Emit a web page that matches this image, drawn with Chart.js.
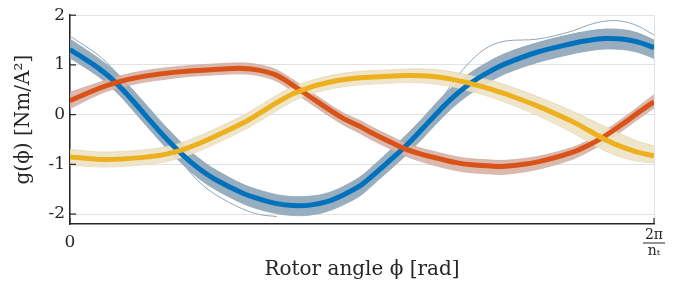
<!DOCTYPE html>
<html><head><meta charset="utf-8">
<script src="https://cdn.jsdelivr.net/npm/chart.js@4.4.1/dist/chart.umd.min.js"></script>
<style>html,body{margin:0;padding:0;background:#fff}</style>
</head><body>
<canvas id="c" width="683" height="297"></canvas>
<script>
// Rotor angle as fraction of 2*pi/n_t
const phi = [0,0.048,0.077,0.106,0.134,0.163,0.192,0.219,0.248,0.296,0.325,0.354,0.382,0.411,0.440,0.467,0.497,0.517,0.545,0.574,0.603,0.630,0.659,0.688,0.716,0.745,0.801,0.860,0.887,0.916,0.945,0.973,1.0];

const blueMain  = [1.31,0.94,0.66,0.3,-0.08,-0.46,-0.8,-1.07,-1.3,-1.58,-1.7,-1.79,-1.83,-1.82,-1.75,-1.62,-1.43,-1.24,-0.95,-0.64,-0.29,0.05,0.38,0.65,0.85,1.02,1.26,1.43,1.49,1.53,1.52,1.46,1.35];
const blueUpper = [1.52,1.14,0.87,0.52,0.15,-0.23,-0.58,-0.86,-1.1,-1.4,-1.52,-1.61,-1.65,-1.64,-1.58,-1.45,-1.25,-1.05,-0.75,-0.43,-0.08,0.27,0.6,0.86,1.06,1.23,1.45,1.62,1.68,1.72,1.71,1.64,1.5];
const blueLower = [1.14,0.77,0.48,0.11,-0.27,-0.65,-0.99,-1.27,-1.5,-1.79,-1.91,-1.99,-2.03,-2.02,-1.95,-1.82,-1.63,-1.43,-1.14,-0.83,-0.49,-0.15,0.18,0.44,0.64,0.82,1.05,1.22,1.28,1.32,1.31,1.25,1.13];
const blueOutA  = [null,null,null,null,null,null,null,null,null,null,null,null,null,null,null,null,null,null,null,null,null,0.2,0.7,1.1,1.36,1.48,1.52,1.68,1.8,1.88,1.88,1.78,1.6];
const blueOutB  = [1.58,1.2,0.88,0.45,0.0,-0.5,-0.96,-1.33,-1.6,-1.9,-2.01,-2.05,null,null,null,null,null,null,null,null,null,null,null,null,null,null,null,null,null,null,null,null,null];

const redMain   = [0.28,0.52,0.64,0.725,0.785,0.83,0.865,0.89,0.91,0.93,0.89,0.79,0.59,0.36,0.13,-0.07,-0.24,-0.37,-0.53,-0.69,-0.8,-0.88,-0.96,-1.01,-1.03,-1.04,-0.95,-0.76,-0.62,-0.43,-0.2,0.04,0.26];
const redUpper  = [0.45,0.64,0.75,0.835,0.895,0.94,0.975,1.0,1.02,1.04,1.0,0.9,0.7,0.47,0.24,0.04,-0.12,-0.25,-0.41,-0.57,-0.68,-0.76,-0.84,-0.89,-0.91,-0.92,-0.84,-0.66,-0.52,-0.32,-0.09,0.16,0.4];
const redLower  = [0.12,0.4,0.52,0.605,0.665,0.71,0.755,0.78,0.8,0.82,0.78,0.67,0.46,0.23,0.0,-0.2,-0.38,-0.51,-0.67,-0.83,-0.95,-1.04,-1.12,-1.17,-1.19,-1.2,-1.1,-0.9,-0.75,-0.56,-0.33,-0.09,0.13];

const yelMain   = [-0.85,-0.9,-0.9,-0.88,-0.85,-0.8,-0.71,-0.59,-0.44,-0.17,0.03,0.24,0.42,0.55,0.64,0.7,0.74,0.755,0.77,0.785,0.78,0.755,0.7,0.62,0.53,0.42,0.17,-0.14,-0.31,-0.5,-0.65,-0.76,-0.83];
const yelUpper  = [-0.7,-0.75,-0.75,-0.73,-0.7,-0.65,-0.56,-0.44,-0.29,-0.02,0.18,0.39,0.56,0.68,0.77,0.83,0.87,0.885,0.9,0.915,0.92,0.9,0.85,0.78,0.7,0.6,0.36,0.07,-0.08,-0.24,-0.4,-0.54,-0.63];
const yelLower  = [-1.02,-1.05,-1.05,-1.03,-1.0,-0.95,-0.86,-0.74,-0.59,-0.32,-0.13,0.08,0.27,0.41,0.5,0.56,0.6,0.615,0.63,0.645,0.64,0.61,0.55,0.46,0.37,0.25,-0.02,-0.36,-0.54,-0.73,-0.86,-0.94,-0.97];

const xTickValues = [0, 1];
const xTickLabels = [['0'], ['2π', 'nₜ']];
const yTickValues = [-2, -1, 0, 1, 2];
const yTickLabels = ['-2', '-1', '0', '1', '2'];

const SERIF = "'DejaVu Serif', 'Liberation Serif', serif";
const pts = arr => phi.map((x, i) => ({x, y: arr[i]}));

function band(upper, lower, fillColor, edgeColor, order) {
  return [
    {data: pts(upper), borderColor: edgeColor, borderWidth: 0.8, backgroundColor: fillColor, fill: '+1', order},
    {data: pts(lower), borderColor: edgeColor, borderWidth: 0.8, fill: false, order}
  ];
}
function thin(arr, color, order) {
  return {data: pts(arr), borderColor: color, borderWidth: 1, fill: false, order};
}
function main(arr, color, order) {
  return {data: pts(arr), borderColor: color, borderWidth: 5, fill: false, order};
}

const datasets = [
  ...band(blueUpper, blueLower, 'rgba(146,170,188,0.95)', '#8aa3b7', 10),
  thin(blueOutA, '#8ea7ba', 10),
  thin(blueOutB, '#8ea7ba', 10),
  ...band(redUpper, redLower, 'rgba(214,178,166,0.9)', '#cfa89c', 9),
  ...band(yelUpper, yelLower, 'rgba(236,226,196,0.9)', '#e4d6ae', 8),
  main(blueMain, '#0072BD', 3),
  main(redMain, '#D95319', 2),
  main(yelMain, '#EDB120', 1)
];

const deco = {
  id: 'deco',
  afterDraw(chart) {
    const {ctx, chartArea: a, scales: {x, y}} = chart;
    ctx.save();
    ctx.strokeStyle = '#262626';
    ctx.lineWidth = 1.2;
    yTickValues.forEach(v => {
      const py = y.getPixelForValue(v);
      ctx.beginPath(); ctx.moveTo(a.left, py); ctx.lineTo(a.left + 6, py); ctx.stroke();
    });
    xTickValues.forEach(v => {
      const px = x.getPixelForValue(v);
      ctx.beginPath(); ctx.moveTo(px, a.bottom); ctx.lineTo(px, a.bottom - 6); ctx.stroke();
    });
    const items = x.getLabelItems();
    items.forEach(it => {
      if (Array.isArray(it.label) && it.label.length === 2) {
        const tx = it.options.translation[0], ty = it.options.translation[1];
        const lh = it.font.lineHeight;
        const yb = ty + it.textOffset + lh / 2;
        ctx.lineWidth = 1;
        ctx.beginPath(); ctx.moveTo(tx - 11, yb); ctx.lineTo(tx + 11, yb); ctx.stroke();
      }
    });
    ctx.restore();
  }
};

new Chart(document.getElementById('c'), {
  type: 'line',
  data: {datasets},
  options: {
    responsive: false,
    animation: false,
    events: [],
    layout: {padding: {left: 0, right: 29, top: 12, bottom: 0}},
    elements: {point: {radius: 0}, line: {tension: 0.35}},
    plugins: {legend: {display: false}, tooltip: {enabled: false}},
    scales: {
      x: {
        type: 'linear', min: 0, max: 1,
        afterBuildTicks: s => { s.ticks = xTickValues.map(v => ({value: v})); },
        afterFit: s => { s.height = 73; },
        grid: {color: '#e2e2e2', lineWidth: 1, drawTicks: false},
        border: {display: true, color: '#262626', width: 1.5},
        ticks: {
          autoSkip: false, maxRotation: 0, minRotation: 0, padding: 11, crossAlign: 'center',
          color: '#262626',
          font: c => (c.index === 1 ? {family: SERIF, size: 14, lineHeight: '16px'} : {family: SERIF, size: 17, lineHeight: '16px'}),
          callback: v => xTickLabels[xTickValues.indexOf(v)]
        },
        title: {display: true, text: 'Rotor angle ϕ [rad]', color: '#262626',
          font: {family: SERIF, size: 20, lineHeight: 1.2}, padding: {top: 0, bottom: 15}}
      },
      y: {
        min: -2.2, max: 2,
        afterBuildTicks: s => { s.ticks = yTickValues.map(v => ({value: v})); },
        afterFit: s => { s.width = 70; },
        grid: {color: '#e2e2e2', lineWidth: 1, drawTicks: false},
        border: {display: true, color: '#262626', width: 1.5},
        ticks: {
          padding: 5, color: '#262626',
          font: {family: SERIF, size: 17},
          callback: v => yTickLabels[yTickValues.indexOf(v)]
        },
        title: {display: true, text: 'g(ϕ) [Nm/A²]', color: '#262626',
          font: {family: SERIF, size: 20, lineHeight: 1.2}, padding: {top: 12, bottom: 0}}
      }
    }
  },
  plugins: [deco]
});
</script>
</body></html>
